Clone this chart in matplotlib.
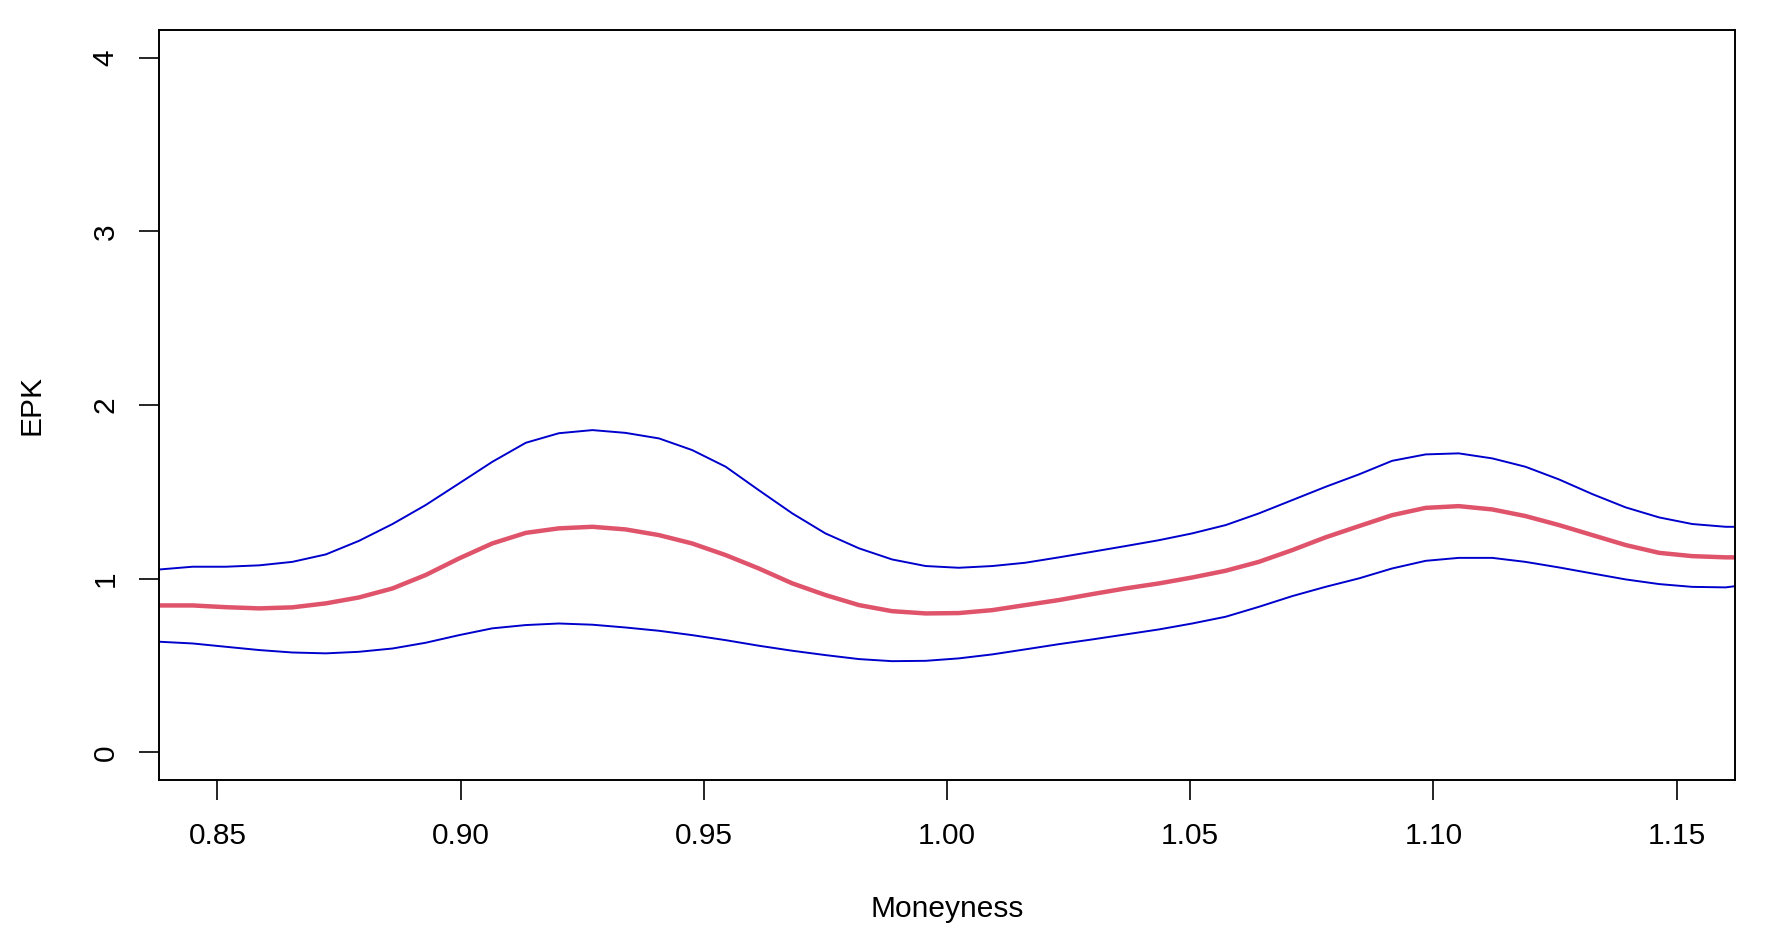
import numpy as np
import matplotlib.pyplot as plt

plt.rcParams['font.family'] = ['Liberation Sans', 'DejaVu Sans']

# moneyness grid
money = [0.838, 0.8449, 0.8517, 0.8586, 0.8654, 0.8723, 0.8791, 0.886, 0.8928,
         0.8997, 0.9065, 0.9134, 0.9202, 0.9271, 0.9339, 0.9408, 0.9476, 0.9545,
         0.9613, 0.9682, 0.975, 0.9819, 0.9887, 0.9956, 1.0024, 1.0093, 1.0161,
         1.023, 1.0298, 1.0367, 1.0436, 1.0504, 1.0573, 1.0641, 1.071, 1.0778,
         1.0847, 1.0915, 1.0984, 1.1052, 1.1121, 1.1189, 1.1258, 1.1327, 1.1395,
         1.1464, 1.1532, 1.1601, 1.162]

# upper band
upper = [1.053, 1.069, 1.069, 1.077, 1.097, 1.140, 1.218, 1.315, 1.424,
         1.549, 1.673, 1.783, 1.838, 1.856, 1.840, 1.808, 1.741, 1.645,
         1.510, 1.376, 1.261, 1.175, 1.111, 1.073, 1.063, 1.073, 1.092,
         1.123, 1.155, 1.188, 1.222, 1.261, 1.309, 1.376, 1.453, 1.529,
         1.601, 1.679, 1.716, 1.722, 1.693, 1.645, 1.572, 1.487, 1.411,
         1.353, 1.315, 1.299, 1.299]

# EPK estimate
epk = [0.846, 0.846, 0.836, 0.829, 0.835, 0.858, 0.892, 0.944, 1.021,
       1.117, 1.203, 1.264, 1.290, 1.299, 1.284, 1.251, 1.203, 1.136,
       1.059, 0.973, 0.906, 0.848, 0.813, 0.800, 0.802, 0.819, 0.848,
       0.877, 0.911, 0.944, 0.973, 1.007, 1.046, 1.097, 1.165, 1.238,
       1.303, 1.366, 1.408, 1.418, 1.399, 1.361, 1.309, 1.251, 1.194,
       1.149, 1.130, 1.123, 1.123]

# lower band
lower = [0.637, 0.627, 0.608, 0.589, 0.575, 0.570, 0.579, 0.598, 0.631,
         0.675, 0.714, 0.733, 0.742, 0.735, 0.719, 0.700, 0.675, 0.646,
         0.614, 0.585, 0.560, 0.537, 0.525, 0.527, 0.541, 0.564, 0.593,
         0.623, 0.650, 0.679, 0.708, 0.742, 0.781, 0.838, 0.900, 0.953,
         1.002, 1.059, 1.103, 1.120, 1.120, 1.097, 1.065, 1.030, 0.996,
         0.969, 0.953, 0.950, 0.957]

xticks = [0.85, 0.90, 0.95, 1.00, 1.05, 1.10, 1.15]
yticks = [0, 1, 2, 3, 4]

fig = plt.figure(figsize=(17.67, 9.41), dpi=100)
ax = fig.add_axes([0.09, 0.171, 0.8919, 0.797])

ax.plot(money, upper, color='#0000CD', lw=1.4)
ax.plot(money, lower, color='#0000CD', lw=1.4)
ax.plot(money, epk, color='#DF536B', lw=3.2)

ax.set_xlim(0.838, 1.162)
ax.set_ylim(-0.16, 4.16)
ax.set_xticks(xticks)
ax.set_xticklabels(['%.2f' % v for v in xticks])
ax.set_yticks(yticks)
ax.set_yticklabels([str(v) for v in yticks], rotation=90, va='center')

ax.tick_params(axis='both', direction='out', length=14.5, width=1.2,
               labelsize=21.5, colors='black')
ax.tick_params(axis='x', pad=16)
ax.tick_params(axis='y', pad=14)
for s in ax.spines.values():
    s.set_linewidth(1.4)

ax.set_xlabel('Moneyness', fontsize=21.5, labelpad=32)
ax.set_ylabel('EPK', fontsize=21.5, labelpad=33)

fig.savefig('out.png', dpi=100)
